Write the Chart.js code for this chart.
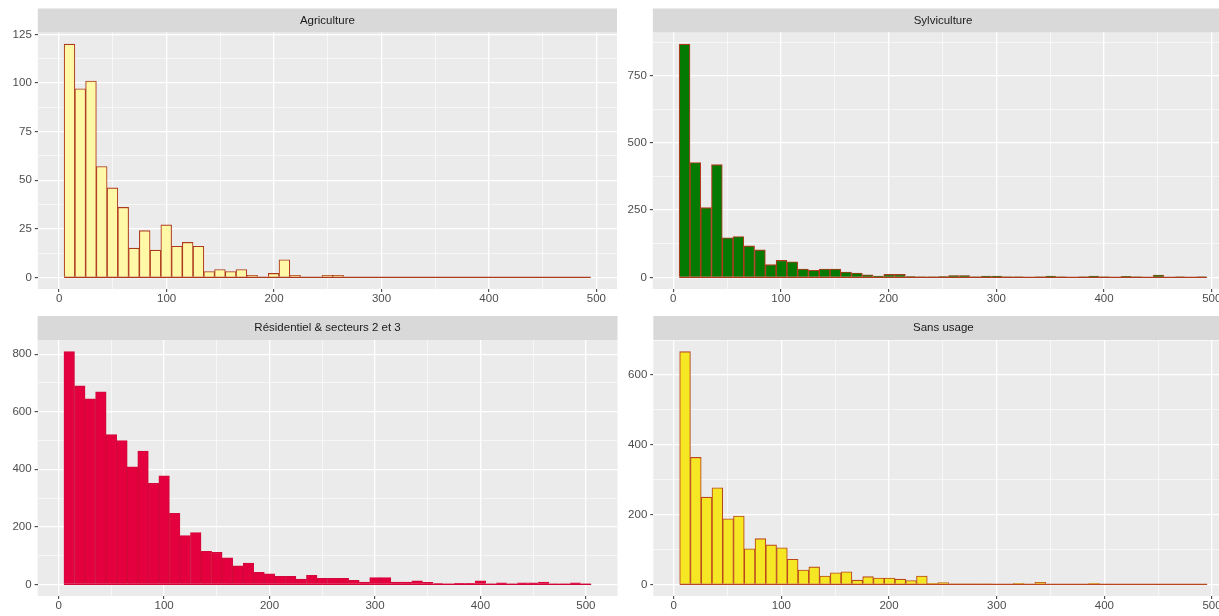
<!DOCTYPE html>
<html>
<head>
<meta charset="utf-8">
<script src="https://cdn.jsdelivr.net/npm/chart.js@4.4.1/dist/chart.umd.min.js"></script>
<style>
html,body{margin:0;padding:0;background:#ffffff;overflow:hidden;width:1219px;height:616px;}
canvas{position:absolute;left:0;top:0;}
</style>
</head>
<body>
<canvas id="c0" width="1250" height="616"></canvas>
<canvas id="c1" width="1250" height="616"></canvas>
<canvas id="c2" width="1250" height="616"></canvas>
<canvas id="c3" width="1250" height="616"></canvas>
<script>
// ---------------- DATA ----------------
const panelTitles = ["Agriculture", "Sylviculture", "Résidentiel & secteurs 2 et 3", "Sans usage"];

// histogram bin definition (x values): first bin left edge and bin width
const agriBinStart = 4.65,  agriBinWidth = 10;
const sylviBinStart = 5.5,  sylviBinWidth = 10;
const residBinStart = 5,    residBinWidth = 10;
const sansBinStart = 5.5,   sansBinWidth = 10;

// counts per bin
const agriCounts = [120, 97, 101, 57, 46, 36, 15, 24, 14, 27, 16, 18, 16, 3, 4, 3, 4, 1, 0, 2,
  9, 1, 0, 0, 1, 1, 0, 0, 0, 0, 0, 0, 0, 0, 0, 0, 0, 0, 0, 0,
  0, 0, 0, 0, 0, 0, 0, 0, 0];
const sylviCounts = [867, 427, 259, 419, 147, 152, 117, 102, 47, 63, 58, 31, 26, 31, 31, 20, 16, 9, 5, 11,
  11, 3, 2, 2, 3, 7, 7, 2, 5, 5, 1, 1, 0, 1, 5, 1, 0, 1, 5, 1,
  0, 4, 1, 0, 8, 0, 1, 0, 1];
const residCounts = [809, 690, 645, 669, 521, 500, 409, 463, 351, 377, 247, 170, 180, 115, 111, 92, 64, 74, 42, 37,
  28, 28, 18, 31, 21, 21, 21, 14, 8, 24, 24, 8, 8, 12, 7, 3, 1, 4, 4, 12,
  2, 5, 1, 5, 5, 8, 2, 2, 5, 2];
const sansCounts = [667, 364, 250, 277, 188, 196, 102, 131, 113, 105, 72, 41, 50, 24, 33, 36, 12, 22, 18, 18,
  15, 11, 24, 3, 5, 1, 1, 1, 1, 0, 0, 3, 0, 6, 0, 0, 0, 0, 3, 0,
  0, 0, 0, 0, 0, 0, 0, 0, 0];

// tick labels
const xTickLabels = [0, 100, 200, 300, 400, 500];
const agriYTicks = [0, 25, 50, 75, 100, 125];
const sylviYTicks = [0, 250, 500, 750];
const residYTicks = [0, 200, 400, 600, 800];
const sansYTicks = [0, 200, 400, 600];

// ---------------- LAYOUT / STYLE ----------------
const CW = 1250, CH = 616;
const FONT = "'Liberation Sans', Arial, Helvetica, sans-serif";
Chart.defaults.font.family = FONT;

const panels = [
  { id: 'c0', title: panelTitles[0], counts: agriCounts, start: agriBinStart, w: agriBinWidth, yTicks: agriYTicks,
    area: { left: 37.8, right: 617, top: 32.5, bottom: 289 }, fill: '#FFF8A6', border: '#AE3A1E' },
  { id: 'c1', title: panelTitles[1], counts: sylviCounts, start: sylviBinStart, w: sylviBinWidth, yTicks: sylviYTicks,
    area: { left: 652.8, right: 1233.3, top: 32.5, bottom: 289 }, fill: '#057A02', border: '#B03A1E' },
  { id: 'c2', title: panelTitles[2], counts: residCounts, start: residBinStart, w: residBinWidth, yTicks: residYTicks,
    area: { left: 37.6, right: 617.5, top: 340, bottom: 596 }, fill: '#E4003E', border: '#D2083A' },
  { id: 'c3', title: panelTitles[3], counts: sansCounts, start: sansBinStart, w: sansBinWidth, yTicks: sansYTicks,
    area: { left: 653.3, right: 1233.5, top: 340, bottom: 596 }, fill: '#F6E724', border: '#BA481C' }
];

const STRIP_H = 24, YAXIS_W = 36, XAXIS_H = 16;

function withMinors(majors, lo, hi) {
  const step = majors[1] - majors[0];
  const out = [];
  const first = majors[0] - step, last = majors[majors.length - 1] + step;
  for (let v = first; v <= last + 1e-9; v += step / 2) {
    if (v >= lo && v <= hi) out.push(Math.round(v * 1000) / 1000);
  }
  return out;
}

const panelBg = {
  id: 'panelBg',
  beforeDraw(chart) {
    const ctx = chart.ctx, a = chart.chartArea, t = chart.titleBlock;
    ctx.save();
    ctx.fillStyle = '#EBEBEB';
    ctx.fillRect(a.left, a.top, a.right - a.left, a.bottom - a.top);
    if (t) {
      ctx.fillStyle = '#D9D9D9';
      ctx.fillRect(t.left, t.top, t.width, t.height);
    }
    ctx.restore();
  }
};

panels.forEach(p => {
  const n = p.counts.length;
  const lo = p.start, hi = p.start + n * p.w;
  const xr = hi - lo;
  const xmin = lo - 0.05 * xr, xmax = hi + 0.05 * xr;
  const ymaxData = Math.max(...p.counts);
  const ymin = -0.05 * ymaxData, ymax = ymaxData * 1.05;

  const barData = p.counts.map((c, i) => ({ x: p.start + p.w * (i + 0.5), y: c }));
  const xTicksAll = withMinors(xTickLabels, xmin, xmax);
  const yTicksAll = withMinors(p.yTicks, ymin, ymax);
  const xMaj = new Set(xTickLabels), yMaj = new Set(p.yTicks);

  new Chart(document.getElementById(p.id), {
    type: 'bar',
    data: {
      datasets: [
        { type: 'bar', data: barData, backgroundColor: p.fill, borderColor: p.border, borderWidth: 1.1,
          borderSkipped: 'start', barPercentage: 1, categoryPercentage: 1, order: 1 },
        { type: 'line', data: [{ x: lo, y: 0 }, { x: hi, y: 0 }], borderColor: p.border, borderWidth: 1.3,
          pointRadius: 0, fill: false, order: 0 }
      ]
    },
    plugins: [panelBg],
    options: {
      responsive: false, animation: false, events: [],
      layout: { padding: { left: p.area.left - YAXIS_W, right: CW - p.area.right,
        top: p.area.top - STRIP_H, bottom: CH - p.area.bottom - XAXIS_H } },
      plugins: {
        legend: { display: false }, tooltip: { enabled: false },
        title: { display: true, text: p.title, position: 'top', fullSize: false, color: '#1A1A1A',
          font: { size: 11.5, weight: 'normal', lineHeight: 1.2 }, padding: { top: 5.1, bottom: 5.1 } }
      },
      scales: {
        x: {
          type: 'linear', min: xmin, max: xmax, offset: false,
          afterFit: s => { s.height = XAXIS_H; },
          afterBuildTicks: s => { s.ticks = xTicksAll.map(v => ({ value: v })); },
          ticks: { autoSkip: false, maxRotation: 0, padding: 0, color: '#4D4D4D', font: { size: 11.5 },
            callback: v => xMaj.has(v) ? String(v) : '' },
          grid: { offset: false, color: '#FFFFFF', lineWidth: c => (c.tick && xMaj.has(c.tick.value)) ? 1.3 : 0.6,
            drawTicks: true, tickLength: 3,
            tickColor: c => (c.tick && xMaj.has(c.tick.value)) ? '#333333' : 'rgba(0,0,0,0)', tickWidth: 1 },
          border: { display: false }
        },
        y: {
          type: 'linear', min: ymin, max: ymax,
          afterFit: s => { s.width = YAXIS_W; },
          afterBuildTicks: s => { s.ticks = yTicksAll.map(v => ({ value: v })); },
          ticks: { autoSkip: false, padding: 3, color: '#4D4D4D', font: { size: 11.5 },
            callback: v => yMaj.has(v) ? String(v) : '' },
          grid: { offset: false, color: '#FFFFFF', lineWidth: c => (c.tick && yMaj.has(c.tick.value)) ? 1.3 : 0.6,
            drawTicks: true, tickLength: 3,
            tickColor: c => (c.tick && yMaj.has(c.tick.value)) ? '#333333' : 'rgba(0,0,0,0)', tickWidth: 1 },
          border: { display: false }
        }
      }
    }
  });
});
</script>
</body>
</html>
